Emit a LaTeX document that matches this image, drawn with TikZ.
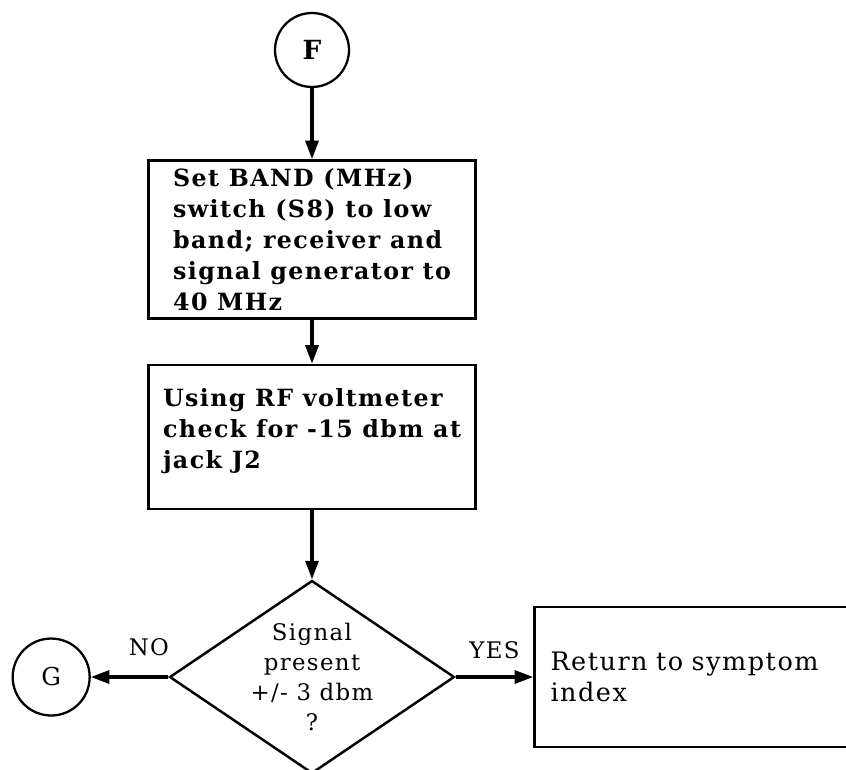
\documentclass[tikz,border=0pt]{standalone}
\usepackage{fontspec}
\setmainfont{DejaVu Serif}[LetterSpace=6]
\usetikzlibrary{arrows.meta, positioning, shapes.geometric}
\tikzset{bloc/.style={rectangle, draw, line width=1.5pt,
  minimum width=6.54cm, minimum height=3.16cm, align=left,
  font=\bfseries\fontsize{13.5}{17.6}\selectfont}}
\tikzset{decis/.style={diamond, draw, line width=1.4pt, aspect=1.48,
  minimum width=5.7cm, minimum height=3.86cm, inner sep=0pt, align=center,
  font=\fontsize{13}{17}\selectfont}}
\tikzset{renvoi/.style={circle, draw, line width=1.3pt, minimum size=1.48cm,
  inner sep=0pt, font=\fontsize{14}{16}\selectfont}}
\tikzset{fl/.style={-{Triangle[length=3.7mm, width=2.6mm]}, line width=1.8pt}}
\begin{document}
\begin{tikzpicture}[x=0.02cm, y=-0.02cm, node distance=1.42cm and 1.55cm]
\useasboundingbox (0,0) rectangle (846,770);
\node[renvoi, font=\bfseries\fontsize{15}{17}\selectfont] (F) at (312,50) {F};
\node[bloc, below=of F] (bande) {Set BAND (MHz)\\switch (S8) to low\\band; receiver and\\signal generator to\\40 MHz};
\node[bloc, below=0.88cm of bande, minimum height=2.88cm] (mesure) {Using RF voltmeter\\check for -15 dbm at\\jack J2\\[-8pt]};
\node[decis, below=1.38cm of mesure] (test) {Signal\\present\\+/- 3 dbm\\?};
\node[renvoi, minimum size=1.54cm, left=of test] (G) {G};
\node[bloc, right=of test, minimum height=2.8cm, text width=5.9cm, font=\fontsize{14.5}{18}\selectfont] (retour) {Return to symptom\\index};
\draw[fl] (F) -- (bande);
\draw[fl] (bande) -- (mesure);
\draw[fl] (mesure) -- (test);
\draw[fl] (test.west) -- node[pos=0.25, above=8pt, font=\fontsize{13}{15}\selectfont] {NO} (G);
\draw[fl] (test.east) -- node[pos=0.5, above=6pt, font=\fontsize{13}{15}\selectfont] {YES} (retour);
\end{tikzpicture}
\end{document}
